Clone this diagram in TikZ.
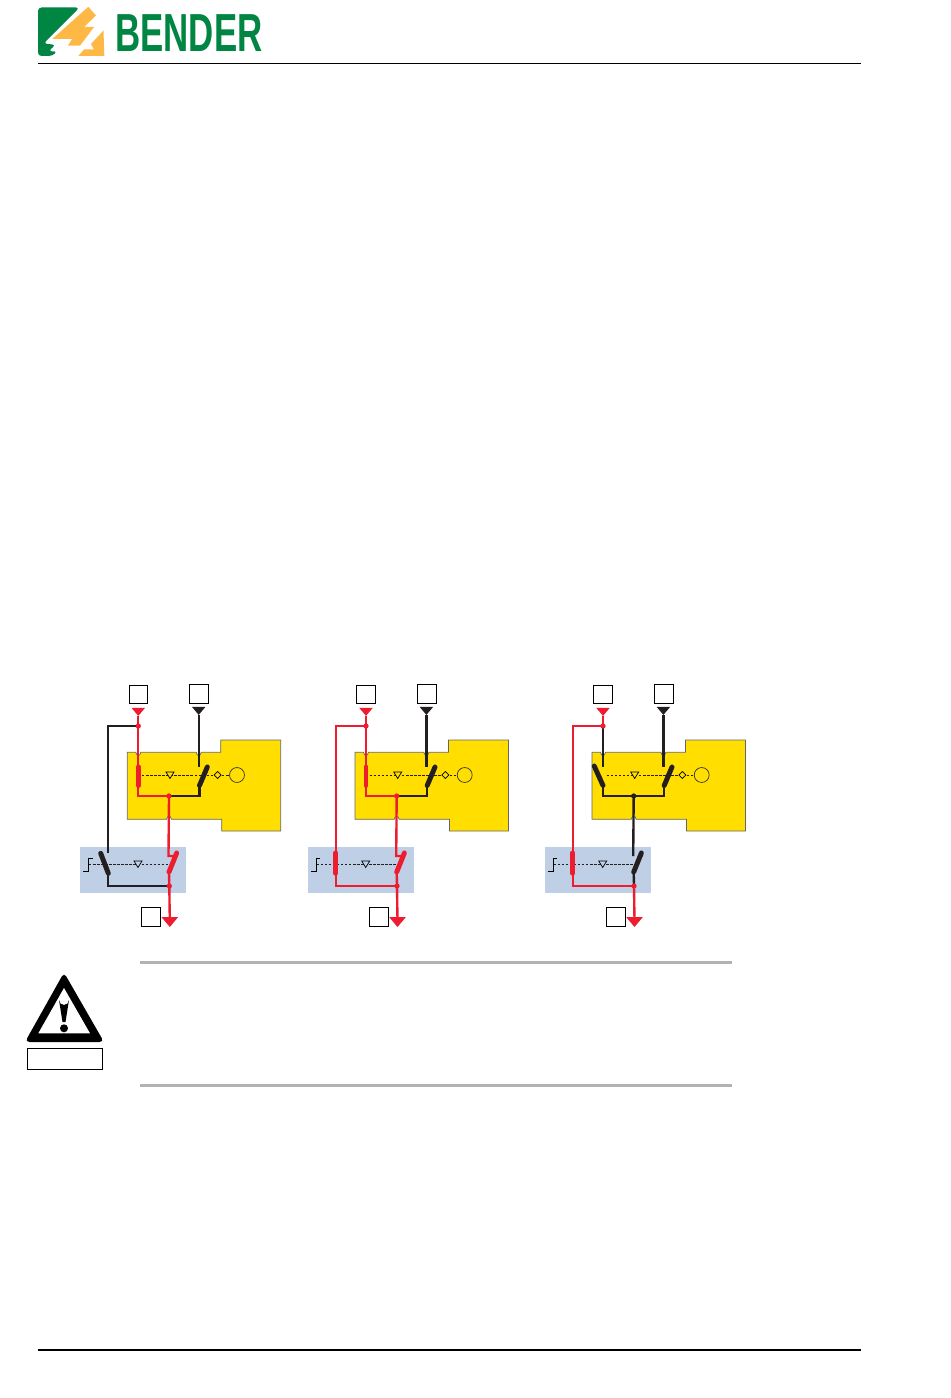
\documentclass[tikz,border=0pt]{standalone}
\usepackage{fontspec}
\setmainfont{Liberation Sans}
\usetikzlibrary{shapes.geometric, positioning, calc}
\definecolor{bendergreen}{RGB}{0,133,66}
\definecolor{benderorange}{RGB}{253,184,70}
\definecolor{unityellow}{RGB}{255,222,0}
\definecolor{unitblue}{RGB}{190,207,230}
\definecolor{livered}{RGB}{237,28,46}
\definecolor{wireblack}{RGB}{35,31,32}
\tikzset{
  wire/.style={line width=1.35pt},
  blade/.style={line width=2.8pt, line cap=round},
  linkage/.style={dash pattern=on 1.4pt off 0.9pt, line width=0.55pt, wireblack},
  termbox/.style={draw=black, fill=white, line width=0.5pt, minimum width=10.6pt, minimum height=10.6pt, inner sep=0pt},
  feed/.style={fill=#1, isosceles triangle, isosceles triangle apex angle=80, shape border rotate=-90, minimum size=4.6pt, inner sep=0pt},
  joint/.style={circle, fill=#1, minimum size=3pt, inner sep=0pt},
  rulegray/.style={draw=black!30, line width=1.7pt}
}
% one unit without its changing wires: #1 x shift, #2 prefix
\newcommand{\changeunit}[2]{
\begin{scope}[xshift=#1*0.02cm]
\fill[unityellow, draw=black!60, line width=0.4pt] (127.3,752.3) -- (135.8,752.3) -- (137,755) -- (139.6,755) -- (140.8,752.3) -- (196.2,752.3) -- (197.4,755) -- (200,755) -- (201.2,752.3) -- (220.7,752.3) -- (220.7,740) -- (280.7,740) -- (280.7,831) -- (221.7,831) -- (221.7,819.3) -- (171.5,819.3) -- (170.3,816.6) -- (167.7,816.6) -- (166.5,819.3) -- (127.3,819.3) -- cycle;
\fill[unitblue] (80,846.7) rectangle (186,893);
\node[termbox] (#2a) at (138.5,694.5) {};
\node[termbox] (#2b) at (199,694) {};
\node[termbox] (#2c) at (151,917) {};
\node[feed=livered] (#2fra) at (138.3,711) {};
\node[feed=wireblack] (#2frb) at (198.7,710) {};
\node[feed=livered, minimum size=5.6pt] (#2fro) at (169.8,921) {};
\coordinate (#2tap) at (138.3,726);
\coordinate (#2ca) at (138.3,767);
\coordinate (#2cb) at (138.3,785.5);
\coordinate (#2cl) at (129.5,766);
\coordinate (#2cm) at (138.3,796);
\coordinate (#2mid) at (169,796);
\coordinate (#2da) at (207.3,767);
\coordinate (#2db) at (199.5,785.5);
\coordinate (#2dc) at (198.7,767);
\coordinate (#2dm) at (199.5,796);
\coordinate (#2ea) at (168.5,856);
\coordinate (#2et) at (176.7,853);
\coordinate (#2eb) at (169,872);
\coordinate (#2bot) at (169.3,886);
\coordinate (#2la) at (108,853);
\coordinate (#2lt) at (100.7,853.3);
\coordinate (#2lb) at (108.3,873.3);
\coordinate (#2lm) at (108.3,886);
\draw[linkage] (142,775) -- (213,775);
\draw[linkage] (222,775) -- (229.5,775);
\draw[linkage] (89,864) -- (168,864);
\draw[line width=0.5pt] (83.3,871.3) -- (88.7,871.3) -- (88.7,858.3) -- (92.7,858.3);
\draw[fill=unityellow, line width=0.4pt] (166,772) -- (174,772) -- (170,778.5) -- cycle;
\draw[fill=unitblue, line width=0.4pt] (134,861) -- (142,861) -- (138,867.5) -- cycle;
\draw[fill=unityellow, line width=0.4pt] (217.7,771.5) -- (221.2,775) -- (217.7,778.5) -- (214.2,775) -- cycle;
\node[circle, draw=black!80, line width=0.4pt, minimum size=8.5pt, inner sep=0pt] (#2lamp) at (237,775) {};
\draw[wire, wireblack] (#2frb) -- (#2dc);
\draw[blade, wireblack] (#2da) -- (#2db);
\draw[wire, wireblack] (#2db) -- (#2dm) -- (#2mid);
\draw[wire, livered] (#2fra) -- (#2tap);
\end{scope}}
\begin{document}
\begin{tikzpicture}[x=0.02cm, y=-0.02cm]
\useasboundingbox (0,0) rectangle (950,1398);
% Header
\fill[bendergreen, rounded corners=2pt] (38,7.5) -- (79.5,7.5) -- (43.5,43.7) -- (55.7,44.7) -- (48.3,51.3) -- (57.3,51.3) -- (52.3,56) -- (38,56) -- cycle;
\fill[benderorange] (88.3,6.8) -- (96,15.5) -- (84,27) -- (94,27) -- (80,45.7) -- (68,45.7) -- (72,39) -- (52.3,39) -- cycle;
\fill[benderorange] (103.5,30.5) -- (104.3,56) -- (78.3,56) -- (84,49.5) -- (94,49.5) -- (91,44) -- cycle;
\node[font=\bfseries\fontsize{30.5pt}{30.5pt}\selectfont, text=bendergreen, xscale=0.65, transform shape, inner sep=0pt] (logotext) at (189,33.4) {BENDER};
\draw[line width=0.6pt] (38,63.5) -- (861,63.5);
\draw[line width=0.6pt] (38,1350) -- (861,1350);
% Unit one
\changeunit{0}{p}
\draw[wire, wireblack] (ptap) -| (pla);
\draw[blade, wireblack] (plt) -- (plb);
\draw[wire, wireblack] (plb) -- (plm) -- (pbot);
\draw[wire, livered] (ptap) -- (pca);
\draw[blade, livered] (pca) -- (pcb);
\draw[wire, livered] (pcb) -- (pcm) -- (pmid);
\draw[wire, livered] (pmid) -- (pea) -- (pea -| pet);
\draw[blade, livered] (pet) -- (peb);
\draw[wire, livered] (peb) -- (pbot) -- (pfro);
\node[joint=livered] (ptapd) at (ptap) {};
\node[joint=livered] (pmidd) at (pmid) {};
\node[joint=livered] (pbotd) at (pbot) {};
% Unit two
\changeunit{227.7}{q}
\draw[wire, livered] (qtap) -| (qla);
\draw[blade, livered] (qla) -- (qla |- qlb);
\draw[wire, livered] (qla) -- (qla |- qlm) -- (qbot);
\draw[wire, livered] (qtap) -- (qca);
\draw[blade, livered] (qca) -- (qcb);
\draw[wire, livered] (qcb) -- (qcm) -- (qmid);
\draw[wire, livered] (qmid) -- (qea) -- (qea -| qet);
\draw[blade, livered] (qet) -- (qeb);
\draw[wire, livered] (qeb) -- (qbot) -- (qfro);
\node[joint=livered] (qtapd) at (qtap) {};
\node[joint=livered] (qmidd) at (qmid) {};
\node[joint=livered] (qbotd) at (qbot) {};
% Unit three
\changeunit{464.7}{r}
\draw[wire, livered] (rtap) -| (rla);
\draw[blade, livered] (rla) -- (rla |- rlb);
\draw[wire, livered] (rla) -- (rla |- rlm) -- (rbot);
\draw[wire, wireblack] (rtap) -- (rca);
\draw[blade, wireblack] (rcl) -- (rcb);
\draw[wire, wireblack] (rcb) -- (rcm) -- (rmid);
\draw[wire, wireblack] (rmid) -- (rea);
\draw[blade, wireblack] (ret) -- (reb);
\draw[wire, wireblack] (reb) -- (rbot);
\draw[wire, livered] (rbot) -- (rfro);
\node[joint=livered] (rtapd) at (rtap) {};
\node[joint=wireblack] (rmidd) at (rmid) {};
\node[joint=livered] (rbotd) at (rbot) {};
% Warning
\draw[rulegray] (140,962) -- (732,962);
\draw[rulegray] (140,1085) -- (732,1085);
\fill[black, rounded corners=2.5pt] (64,972.5) -- (104,1042) -- (25,1042) -- cycle;
\fill[white] (64,988) -- (90,1033.3) -- (38.3,1033.3) -- cycle;
\fill[black] (59,1000) arc[start angle=180, end angle=0, radius=5] -- (65.5,1022) -- (62.5,1022) -- cycle;
\fill[black] (64,1028.3) circle[radius=4];
\node[draw=black, line width=0.5pt, minimum width=42.5pt, minimum height=11.9pt, inner sep=0pt] (notebox) at (65.2,1058.8) {};
\end{tikzpicture}
\end{document}
